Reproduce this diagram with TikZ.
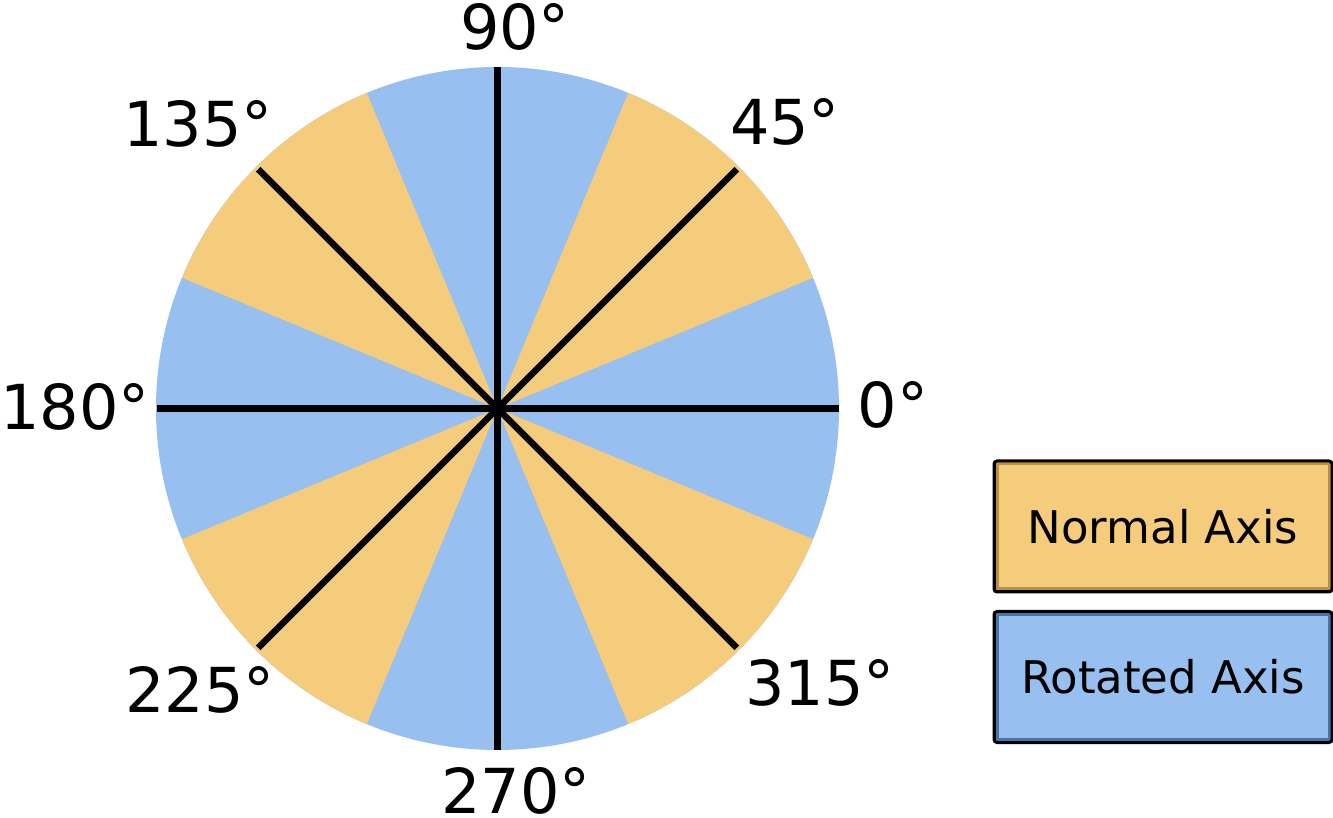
\documentclass[tikz,border=0pt]{standalone}
\usepackage{fontspec}
\setmainfont{DejaVu Sans}
\definecolor{normalfill}{HTML}{F4CC7B}
\definecolor{rotfill}{HTML}{97BFF0}
\definecolor{normaledge}{HTML}{B8913F}
\definecolor{rotedge}{HTML}{4A74A8}
\begin{document}
\begin{tikzpicture}[x=1pt,y=1pt,
  axisline/.style={line width=6.5pt,black},
  anglabel/.style={anchor=base,inner sep=0pt,font=\fontsize{62}{62}\selectfont},
  legendbox/.style={draw=black,line width=3pt,rounded corners=3pt,minimum width=335pt,minimum height=128pt,inner sep=0pt,font=\fontsize{45}{45}\selectfont}
]
\useasboundingbox (0,0) rectangle (1333,817);
\coordinate (O) at (497.5,408.5);
% sectors
\fill[rotfill] (O) circle[radius=341.5];
\foreach \a in {22.5,112.5,202.5,292.5}{
  \fill[normalfill] (O) -- ++(\a:341.5) arc[start angle=\a,end angle=\a+45,radius=341.5] -- cycle;
}
% axis lines
\foreach \a in {0,90,180,270}{
  \draw[axisline] (O) -- ++(\a:341);
}
\foreach \a in {45,135,225,315}{
  \draw[axisline] (O) -- ++(\a:338.5);
}
% labels
\node[anglabel] (l90) at (515,767.4) {90°};
\node[anglabel] (l45) at (785,672.4) {45°};
\node[anglabel] (l0) at (893,389.4) {0°};
\node[anglabel] (l135) at (198,670.4) {135°};
\node[anglabel] (l180) at (75,387.4) {180°};
\node[anglabel] (l225) at (200,104.4) {225°};
\node[anglabel] (l270) at (516,4) {270°};
\node[anglabel] (l315) at (820,111.4) {315°};
% legend
\node[legendbox,fill=normalfill] (normal) at (1163,290.5) {Normal Axis};
\draw[normaledge,line width=3pt] ([shift={(3pt,3pt)}]normal.south west) rectangle ([shift={(-3pt,-3pt)}]normal.north east);
\draw[black,line width=3pt,rounded corners=3pt] (normal.south west) rectangle (normal.north east);
\node[legendbox,fill=rotfill] (rotated) at (1163,140) {Rotated Axis};
\draw[rotedge,line width=3pt] ([shift={(3pt,3pt)}]rotated.south west) rectangle ([shift={(-3pt,-3pt)}]rotated.north east);
\draw[black,line width=3pt,rounded corners=3pt] (rotated.south west) rectangle (rotated.north east);
\end{tikzpicture}
\end{document}
